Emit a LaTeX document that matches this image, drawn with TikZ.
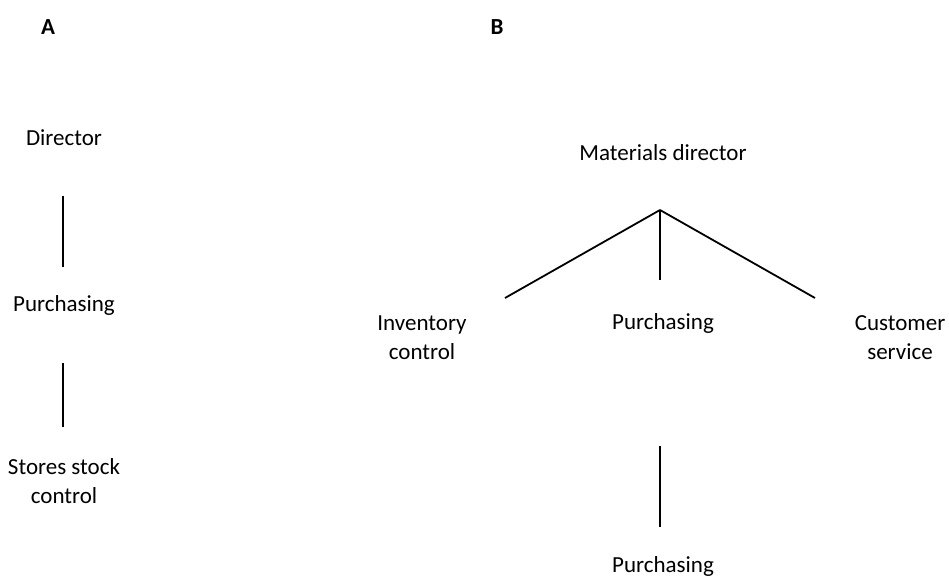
\documentclass[tikz,border=0pt]{standalone}
\usepackage{fontspec}
\setmainfont{Carlito}
\begin{document}
\begin{tikzpicture}[x=1pt,y=-1pt,
  lbl/.style={font=\fontsize{23}{29}\selectfont, align=center, inner sep=0pt},
  hdr/.style={font=\fontsize{23}{29}\selectfont\bfseries, inner sep=0pt},
  conn/.style={line width=1.8pt, black}]
\useasboundingbox (0,0) rectangle (949,577);
\node[hdr] (A) at (48,27) {A};
\node[hdr] (B) at (497,27) {B};
% A
\node[lbl] (dir) at (64,138) {Director};
\node[lbl] (pa) at (64,305) {Purchasing};
\node[lbl] (ssc) at (64,481) {Stores stock\\control};
\coordinate (a1) at (63,196);
\coordinate (a2) at (63,267);
\coordinate (a3) at (63,363);
\coordinate (a4) at (63,427);
\draw[conn] (a1) -- (a2);
\draw[conn] (a3) -- (a4);
% B
\node[lbl] (md) at (663,153) {Materials director};
\node[lbl] (ic) at (422,338) {Inventory\\control};
\node[lbl] (pb) at (663,323) {Purchasing};
\node[lbl] (cs) at (900,338) {Customer\\service};
\node[lbl] (pb2) at (663,566) {Purchasing};
\coordinate (apex) at (660,210);
\coordinate (bl) at (505,298);
\coordinate (bm) at (660,280);
\coordinate (br) at (815,298);
\draw[conn] (apex) -- (bl);
\draw[conn] (apex) -- (bm);
\draw[conn] (apex) -- (br);
\coordinate (b1) at (660,446);
\coordinate (b2) at (660,527);
\draw[conn] (b1) -- (b2);
\end{tikzpicture}
\end{document}
